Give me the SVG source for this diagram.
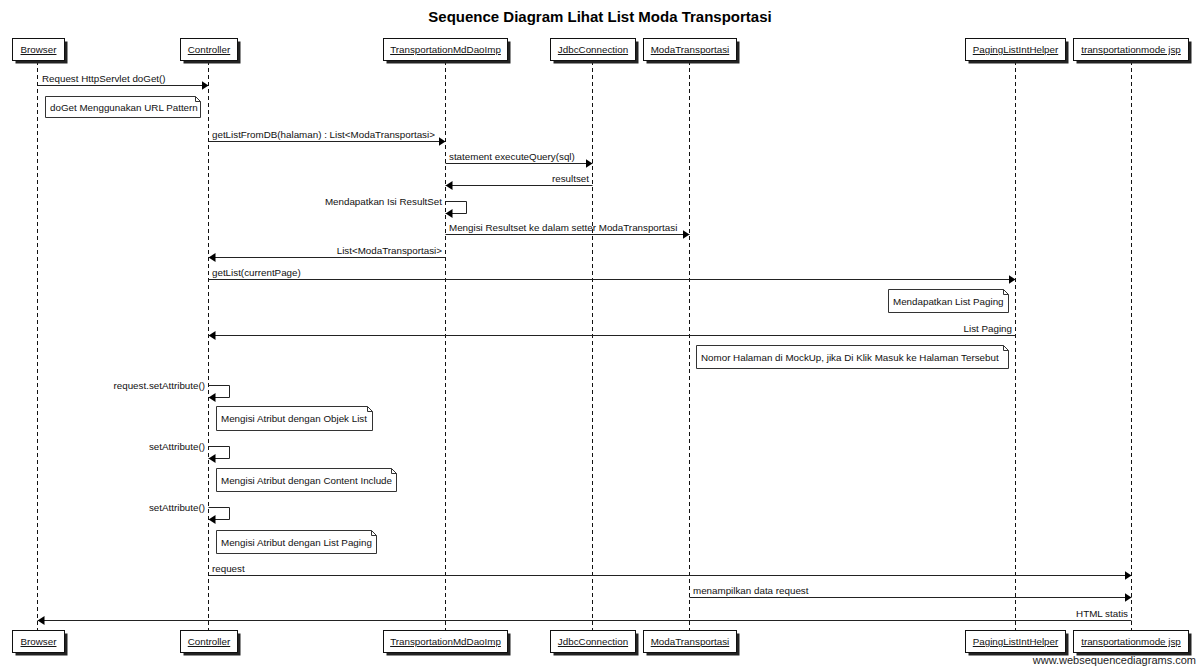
<svg xmlns="http://www.w3.org/2000/svg" width="1200" height="672" viewBox="0 0 1200 672">
<style>
text{font-family:"Liberation Sans",Arial,Helvetica,sans-serif;font-size:9.8px;fill:#111}
.title{font-size:15px;font-weight:bold;fill:#000}
.pl{text-anchor:middle;text-decoration:underline}
.box{fill:#fff;stroke:#111;stroke-width:1}
.shadow{fill:#222}
.life{stroke:#111;stroke-width:1;stroke-dasharray:4,3;fill:none}
.msg{stroke:#222;stroke-width:1;fill:none;marker-end:url(#arr)}
.note{fill:#fff;stroke:#333;stroke-width:1}
.fold{fill:none;stroke:#333;stroke-width:1}
.r{text-anchor:end}
.foot{font-size:11px;text-anchor:end;fill:#222}
</style>
<defs>
<marker id="arr" viewBox="0 0 7 9" refX="7" refY="4.5" markerWidth="7" markerHeight="9" markerUnits="userSpaceOnUse" orient="auto">
<path d="M0,0 L7,4.5 L0,9 z" fill="#000"/>
</marker>
</defs>
<rect width="1200" height="672" fill="#fff"/>
<text class="title" x="600" y="22" text-anchor="middle">Sequence Diagram Lihat List Moda Transportasi</text>

<g id="p-browser">
<line class="life" x1="37.5" y1="61" x2="37.5" y2="630"/>
<rect class="shadow" x="15.5" y="41.5" width="52" height="22"/><rect class="box" x="12.5" y="38.5" width="52" height="22"/>
<text class="pl" x="38.5" y="53">Browser</text>
<rect class="shadow" x="15.5" y="633.5" width="52" height="22"/><rect class="box" x="12.5" y="630.5" width="52" height="22"/>
<text class="pl" x="38.5" y="645">Browser</text>
</g>
<g id="p-controller">
<line class="life" x1="208.5" y1="61" x2="208.5" y2="630"/>
<rect class="shadow" x="183.5" y="41.5" width="57" height="22"/><rect class="box" x="180.5" y="38.5" width="57" height="22"/>
<text class="pl" x="209" y="53">Controller</text>
<rect class="shadow" x="183.5" y="633.5" width="57" height="22"/><rect class="box" x="180.5" y="630.5" width="57" height="22"/>
<text class="pl" x="209" y="645">Controller</text>
</g>
<g id="p-dao">
<line class="life" x1="445.5" y1="61" x2="445.5" y2="630"/>
<rect class="shadow" x="386.5" y="41.5" width="124" height="22"/><rect class="box" x="383.5" y="38.5" width="124" height="22"/>
<text class="pl" x="445.5" y="53">TransportationMdDaoImp</text>
<rect class="shadow" x="386.5" y="633.5" width="124" height="22"/><rect class="box" x="383.5" y="630.5" width="124" height="22"/>
<text class="pl" x="445.5" y="645">TransportationMdDaoImp</text>
</g>
<g id="p-jdbc">
<line class="life" x1="592.5" y1="61" x2="592.5" y2="630"/>
<rect class="shadow" x="553.5" y="41.5" width="85" height="22"/><rect class="box" x="550.5" y="38.5" width="85" height="22"/>
<text class="pl" x="593" y="53">JdbcConnection</text>
<rect class="shadow" x="553.5" y="633.5" width="85" height="22"/><rect class="box" x="550.5" y="630.5" width="85" height="22"/>
<text class="pl" x="593" y="645">JdbcConnection</text>
</g>
<g id="p-moda">
<line class="life" x1="689.5" y1="61" x2="689.5" y2="630"/>
<rect class="shadow" x="646.5" y="41.5" width="93" height="22"/><rect class="box" x="643.5" y="38.5" width="93" height="22"/>
<text class="pl" x="690" y="53">ModaTransportasi</text>
<rect class="shadow" x="646.5" y="633.5" width="93" height="22"/><rect class="box" x="643.5" y="630.5" width="93" height="22"/>
<text class="pl" x="690" y="645">ModaTransportasi</text>
</g>
<g id="p-paging">
<line class="life" x1="1015.5" y1="61" x2="1015.5" y2="630"/>
<rect class="shadow" x="968.5" y="41.5" width="100" height="22"/><rect class="box" x="965.5" y="38.5" width="100" height="22"/>
<text class="pl" x="1015.5" y="53">PagingListIntHelper</text>
<rect class="shadow" x="968.5" y="633.5" width="100" height="22"/><rect class="box" x="965.5" y="630.5" width="100" height="22"/>
<text class="pl" x="1015.5" y="645">PagingListIntHelper</text>
</g>
<g id="p-jsp">
<line class="life" x1="1131.5" y1="61" x2="1131.5" y2="630"/>
<rect class="shadow" x="1076.5" y="41.5" width="115" height="22"/><rect class="box" x="1073.5" y="38.5" width="115" height="22"/>
<text class="pl" x="1131" y="53">transportationmode jsp</text>
<rect class="shadow" x="1076.5" y="633.5" width="115" height="22"/><rect class="box" x="1073.5" y="630.5" width="115" height="22"/>
<text class="pl" x="1131" y="645">transportationmode jsp</text>
</g>

<g id="note-1">
<path class="note" d="M45.5,96.5 H195.5 L200.5,101.5 V117.5 H45.5 Z"/><path class="fold" d="M195.5,96.5 V101.5 H200.5"/>
<text x="50" y="110.5">doGet Menggunakan URL Pattern</text>
</g>
<g id="note-2">
<path class="note" d="M888.5,289.5 H1003.5 L1008.5,294.5 V312.5 H888.5 Z"/><path class="fold" d="M1003.5,289.5 V294.5 H1008.5"/>
<text x="893" y="304.5">Mendapatkan List Paging</text>
</g>
<g id="note-3">
<path class="note" d="M696.5,345.5 H1003.5 L1008.5,350.5 V368.5 H696.5 Z"/><path class="fold" d="M1003.5,345.5 V350.5 H1008.5"/>
<text x="701" y="360.5">Nomor Halaman di MockUp, jika Di Klik Masuk ke Halaman Tersebut</text>
</g>
<g id="note-4">
<path class="note" d="M216.5,406.5 H367.5 L372.5,411.5 V430.5 H216.5 Z"/><path class="fold" d="M367.5,406.5 V411.5 H372.5"/>
<text x="221" y="422">Mengisi Atribut dengan Objek List</text>
</g>
<g id="note-5">
<path class="note" d="M216.5,468.5 H391.5 L396.5,473.5 V491.5 H216.5 Z"/><path class="fold" d="M391.5,468.5 V473.5 H396.5"/>
<text x="221" y="483.5">Mengisi Atribut dengan Content Include</text>
</g>
<g id="note-6">
<path class="note" d="M216.5,530.5 H371.5 L376.5,535.5 V553.5 H216.5 Z"/><path class="fold" d="M371.5,530.5 V535.5 H376.5"/>
<text x="221" y="545.5">Mengisi Atribut dengan List Paging</text>
</g>

<g id="connectors">
<path class="msg" d="M37.5,85.5 H208.5"/>
<text x="42" y="81.5">Request HttpServlet doGet()</text>
<path class="msg" d="M208.5,141.5 H445.5"/>
<text x="212" y="137.5">getListFromDB(halaman) : List&lt;ModaTransportasi&gt;</text>
<path class="msg" d="M445.5,163.5 H592.5"/>
<text x="449" y="159.5">statement executeQuery(sql)</text>
<path class="msg" d="M592.5,185.5 H445.5"/>
<text class="r" x="589" y="181.5">resultset</text>
<path class="msg" d="M445.5,201.5 H466.5 V213.5 H445.5"/>
<text class="r" x="442" y="205">Mendapatkan Isi ResultSet</text>
<path class="msg" d="M445.5,234.5 H689.5"/>
<text x="449" y="230.5">Mengisi Resultset ke dalam setter ModaTransportasi</text>
<path class="msg" d="M445.5,257.5 H208.5"/>
<text class="r" x="442" y="253.5">List&lt;ModaTransportasi&gt;</text>
<path class="msg" d="M208.5,279.5 H1015.5"/>
<text x="212" y="275.5">getList(currentPage)</text>
<path class="msg" d="M1015.5,335.5 H208.5"/>
<text class="r" x="1012" y="331.5">List Paging</text>
<path class="msg" d="M208.5,385.5 H229.5 V397.5 H208.5"/>
<text class="r" x="205" y="389">request.setAttribute()</text>
<path class="msg" d="M208.5,446.5 H229.5 V458.5 H208.5"/>
<text class="r" x="205" y="450">setAttribute()</text>
<path class="msg" d="M208.5,507.5 H229.5 V519.5 H208.5"/>
<text class="r" x="205" y="511">setAttribute()</text>
<path class="msg" d="M208.5,575.5 H1131.5"/>
<text x="212" y="571.5">request</text>
<path class="msg" d="M689.5,597.5 H1131.5"/>
<text x="693" y="593.5">menampilkan data request</text>
<path class="msg" d="M1131.5,620.5 H37.5"/>
<text class="r" x="1128" y="616.5">HTML statis</text>
</g>

<text class="foot" x="1196" y="664">www.websequencediagrams.com</text>
</svg>
